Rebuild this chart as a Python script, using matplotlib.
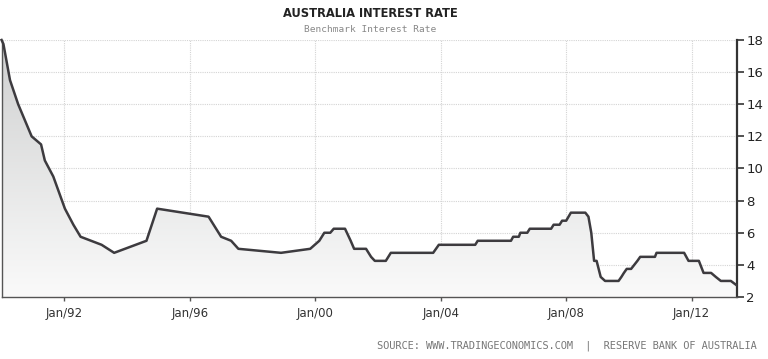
import matplotlib
matplotlib.use("Agg")
import matplotlib.pyplot as plt
import numpy as np
from matplotlib.patches import Polygon

# Data: (decimal year, rate %) vertices
dates = [1990.00, 1990.06, 1990.27, 1990.53, 1990.96, 1991.26, 1991.38, 1991.65,
         1992.02, 1992.29, 1992.52, 1993.19, 1993.59, 1994.62, 1994.96,
         1996.60, 1996.92, 1997.00, 1997.32, 1997.55, 1998.91, 1999.84,
         2000.13, 2000.29, 2000.48, 2000.59, 2000.95, 2001.13, 2001.24,
         2001.62, 2001.78, 2001.90, 2002.25, 2002.41,
         2003.76, 2003.94, 2005.10, 2005.18, 2006.24, 2006.31, 2006.49, 2006.54,
         2006.76, 2006.84, 2007.52, 2007.60, 2007.79, 2007.87, 2008.00, 2008.15,
         2008.61, 2008.71, 2008.80, 2008.89, 2008.97, 2009.10, 2009.24, 2009.67,
         2009.76, 2009.84, 2009.93, 2010.07, 2010.17, 2010.27, 2010.36, 2010.83,
         2010.88, 2011.76, 2011.90, 2012.23, 2012.33, 2012.38, 2012.62, 2012.77,
         2012.93, 2013.25, 2013.42]
rates = [18.0, 17.75, 15.5, 14.0, 12.0, 11.5, 10.5, 9.5,
         7.5, 6.5, 5.75, 5.25, 4.75, 5.5, 7.5,
         7.0, 6.0, 5.75, 5.5, 5.0, 4.75, 5.0,
         5.5, 6.0, 6.0, 6.25, 6.25, 5.5, 5.0,
         5.0, 4.5, 4.25, 4.25, 4.75,
         4.75, 5.25, 5.25, 5.5, 5.5, 5.75, 5.75, 6.0,
         6.0, 6.25, 6.25, 6.5, 6.5, 6.75, 6.75, 7.25,
         7.25, 7.0, 6.0, 4.25, 4.25, 3.25, 3.0, 3.0,
         3.25, 3.5, 3.75, 3.75, 4.0, 4.25, 4.5, 4.5,
         4.75, 4.75, 4.25, 4.25, 3.75, 3.5, 3.5, 3.25,
         3.0, 3.0, 2.75]

xtick_pos = [1992, 1996, 2000, 2004, 2008, 2012]
xtick_labels = ["Jan/92", "Jan/96", "Jan/00", "Jan/04", "Jan/08", "Jan/12"]
ytick_pos = [2, 4, 6, 8, 10, 12, 14, 16, 18]

title = "AUSTRALIA INTEREST RATE"
subtitle = "Benchmark Interest Rate"
source = "SOURCE: WWW.TRADINGECONOMICS.COM  |  RESERVE BANK OF AUSTRALIA"

fig = plt.figure(figsize=(7.68, 3.59), dpi=100)
ax = fig.add_axes([0.002, 0.1727, 0.957, 0.7159])
xmin, xmax = 1990.0, 2013.43
ymin, ymax = 2, 18
ax.set_xlim(xmin, xmax)
ax.set_ylim(ymin, ymax)

# gradient fill under the line
grad = np.linspace(0, 1, 256).reshape(-1, 1)
cmap = matplotlib.colors.LinearSegmentedColormap.from_list(
    "g", ["#fafafa", "#cfd0d0"])
im = ax.imshow(grad, extent=[xmin, xmax, ymin, ymax], origin="lower",
               aspect="auto", cmap=cmap, zorder=1)
poly_xy = np.column_stack([[dates[0]] + dates + [dates[-1]],
                           [ymin] + rates + [ymin]])
poly = Polygon(poly_xy, closed=True, facecolor="none", edgecolor="none")
ax.add_patch(poly)
im.set_clip_path(poly)

ax.plot(dates, rates, color="#3d3b3f", lw=1.8, zorder=3,
        solid_joinstyle="round", clip_on=False)

# grid
ax.set_xticks(xtick_pos)
ax.set_xticklabels(xtick_labels)
ax.set_yticks(ytick_pos)
ax.grid(True, color="#d4d4d4", linestyle=(0, (1, 1)), lw=0.8, zorder=0)
ax.set_axisbelow(True)

ax.yaxis.tick_right()
ax.spines["top"].set_visible(False)
ax.spines["right"].set_color("#333333")
ax.spines["right"].set_linewidth(1.6)
ax.spines["bottom"].set_color("#555555")
ax.spines["bottom"].set_linewidth(1.0)
ax.spines["left"].set_color("#555555")
ax.spines["left"].set_linewidth(1.0)

ax.tick_params(axis="y", direction="out", length=5, width=1.2, color="#333333",
               labelsize=9.5, labelcolor="#222222", pad=2)
ax.tick_params(axis="x", direction="out", length=3, width=1.0, color="#555555",
               labelsize=8.5, labelcolor="#333333", pad=4)

fig.text(0.482, 0.962, title, ha="center", va="center", fontsize=8.3,
         fontweight="bold", color="#222222")
fig.text(0.482, 0.918, subtitle, ha="center", va="center", fontsize=6.8,
         color="#888888", family="DejaVu Sans Mono")
fig.text(0.986, 0.036, source, ha="right", va="center", fontsize=7.4,
         color="#777777", family="DejaVu Sans Mono")

fig.savefig("out.png", dpi=100, facecolor="white")
